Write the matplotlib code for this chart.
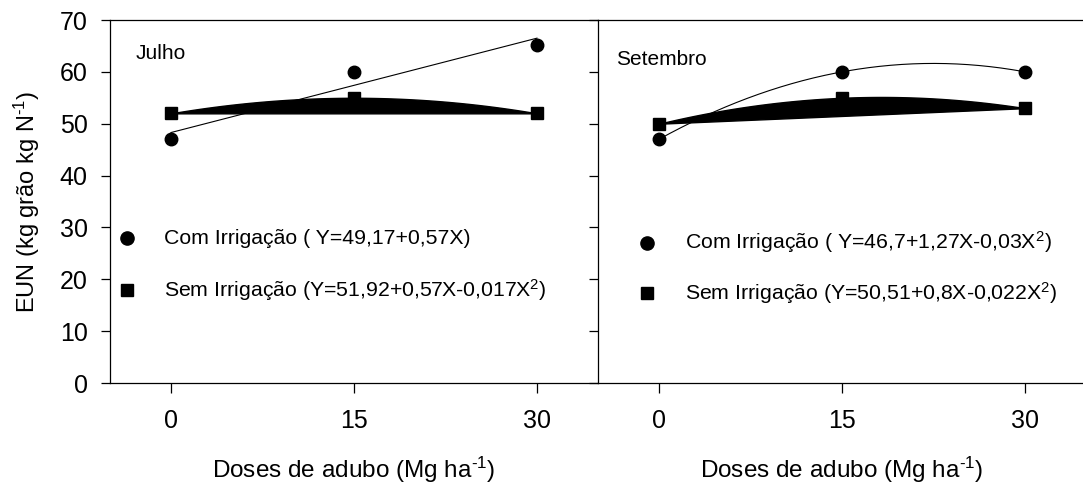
import numpy as np
import matplotlib.pyplot as plt

plt.rcParams['font.family'] = ['Liberation Sans', 'DejaVu Sans']
plt.rcParams['mathtext.fontset'] = 'custom'
plt.rcParams['mathtext.rm'] = 'Liberation Sans'
plt.rcParams['mathtext.default'] = 'regular'

# dados
doses = [0, 15, 30]
julho_com = [47, 60, 65.2]
julho_sem = [52, 55, 52]
setembro_com = [47, 60, 60]
setembro_sem = [50, 55, 53]

meses = ['Julho', 'Setembro']
leg_com = ['Com Irrigação ( Y=49,17+0,57X)',
           'Com Irrigação ( Y=46,7+1,27X-0,03X$^{2}$)']
leg_sem = ['Sem Irrigação (Y=51,92+0,57X-0,017X$^{2}$)',
           'Sem Irrigação (Y=50,51+0,8X-0,022X$^{2}$)']
grau_com = [1, 2]
yticks = [0, 10, 20, 30, 40, 50, 60, 70]


def painel(ax, com, sem, grau, nome, lc, ls, pos_nome, pos_leg, ticklabels=True):
    x = np.array(doses, dtype=float)
    xs = np.linspace(0, 30, 200)
    # irrigado: curva ajustada
    p = np.polyfit(x, com, grau)
    ax.plot(xs, np.polyval(p, xs), color='k', lw=0.8, zorder=2)
    ax.plot(x, com, 'o', color='k', ms=9, zorder=4)
    # sem irrigacao: area preta entre a curva e a corda
    q = np.polyfit(x, sem, 2)
    curva = np.polyval(q, xs)
    corda = sem[0] + (sem[-1] - sem[0]) * xs / 30.0
    ax.fill_between(xs, curva, corda, color='k', lw=1, zorder=3)
    ax.plot(x, sem, 's', color='k', ms=8.5, zorder=4)

    ax.set_xlim(-5, 35)
    ax.set_ylim(0, 70)
    ax.set_xticks(doses)
    ax.set_yticks(yticks)
    ax.spines['right'].set_visible(False)
    ax.tick_params(axis='x', direction='out', length=7.5, width=0.9, pad=11, labelsize=18)
    ax.tick_params(axis='y', direction='out', length=6.5, width=0.9, pad=9.5, labelsize=18,
                   labelleft=ticklabels)
    for s in ax.spines.values():
        s.set_linewidth(0.9)
    ax.set_xlabel(r'Doses de adubo (Mg ha$^{\text{-}1}$)', fontsize=17.5)
    ax.xaxis.set_label_coords(0.5, -0.198)

    ax.text(pos_nome[0], pos_nome[1], nome, transform=ax.transAxes,
            fontsize=15, va='center', ha='left')
    lx, ly1, ly2 = pos_leg
    ax.plot([lx], [ly1], 'o', color='k', ms=9.5, transform=ax.transAxes, clip_on=False)
    ax.plot([lx], [ly2], 's', color='k', ms=9, transform=ax.transAxes, clip_on=False)
    ax.text(lx + 0.077, ly1, lc, transform=ax.transAxes, fontsize=15.3, va='center')
    ax.text(lx + 0.077, ly2, ls, transform=ax.transAxes, fontsize=15.3, va='center')


fig = plt.figure(figsize=(10.83, 4.86), dpi=100)
ax1 = fig.add_axes([110 / 1083, 103 / 486, 488 / 1083, 363 / 486])
ax2 = fig.add_axes([598 / 1083, 103 / 486, 488 / 1083, 363 / 486])

painel(ax1, julho_com, julho_sem, grau_com[0], meses[0], leg_com[0], leg_sem[0],
       (0.053, 0.909), (0.034, 0.399, 0.256))
painel(ax2, setembro_com, setembro_sem, grau_com[1], meses[1], leg_com[1], leg_sem[1],
       (0.038, 0.89), (0.101, 0.387, 0.247), ticklabels=False)

ax1.set_ylabel(r'EUN (kg grão kg N$^{\text{-}1}$)', fontsize=17, va='center')
ax1.yaxis.set_label_coords(-0.17, 0.5)

fig.savefig('out.png', dpi=100)
